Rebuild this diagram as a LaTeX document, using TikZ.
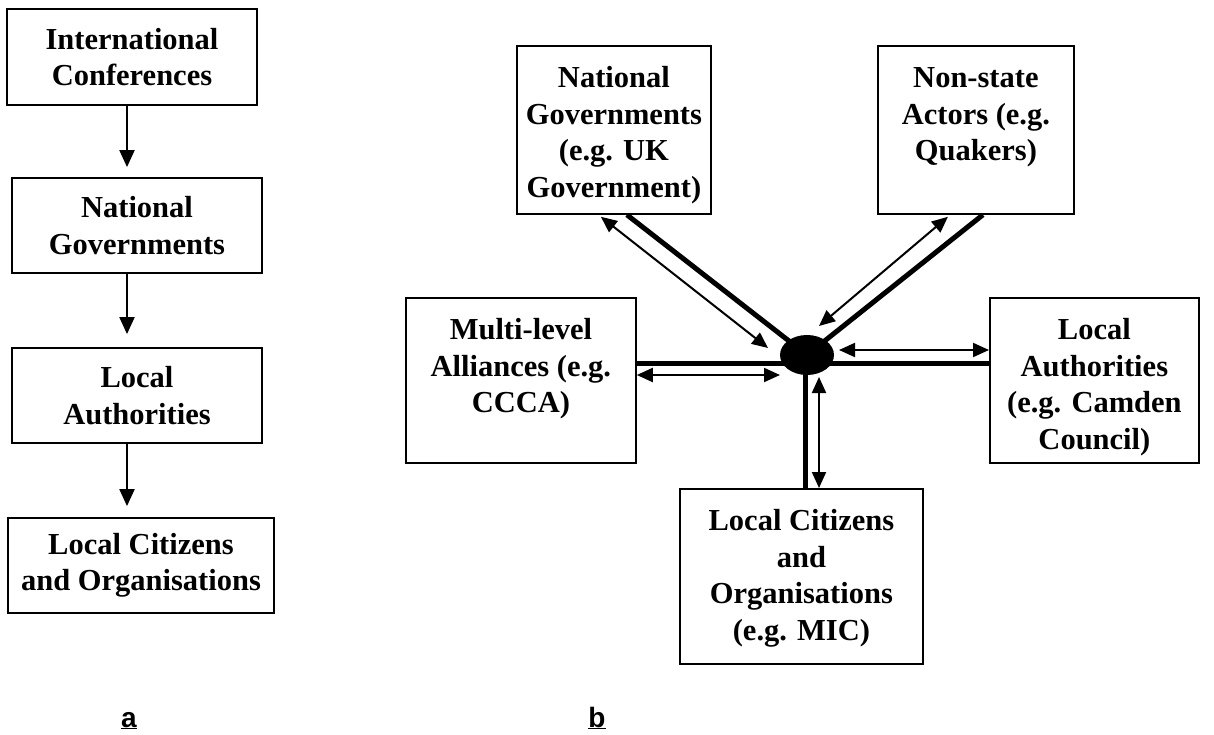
\documentclass[tikz,border=0pt]{standalone}
\usepackage{fontspec}
\setmainfont{Liberation Serif}
\newfontfamily\labfont{Liberation Sans}
\usetikzlibrary{arrows.meta,shapes.geometric}
\newcommand\tbox[3]{\parbox[c][#2][t]{#1}{\centering\rule{0pt}{42pt}#3\par}}
\begin{document}
\begin{tikzpicture}[x=1pt,y=-1pt,
  every node/.style={font=\fontsize{30.5}{36.5}\selectfont\bfseries},
  box/.style={draw, line width=1.8pt, inner sep=0pt, anchor=north west},
  lbox/.style={draw, line width=1.8pt, inner sep=0pt, align=center},
  larr/.style={line width=2pt, -{Triangle[length=17pt,width=15pt]}},
  darr/.style={line width=2pt, {Triangle[length=16pt,width=14pt]}-{Triangle[length=16pt,width=14pt]}},
  thk/.style={line width=5pt},
  lab/.style={font=\fontsize{28}{30}\selectfont\labfont\bfseries, anchor=base}
]
\useasboundingbox (0,0) rectangle (1214,735);

% ---- panel a ----
\node[lbox, minimum width=250pt, minimum height=96pt] (L1) at (132,57) {International\\Conferences};
\node[lbox, minimum width=250pt, minimum height=95pt] (L2) at (137,225.5) {National\\Governments};
\node[lbox, minimum width=250pt, minimum height=95pt] (L3) at (137,395.5) {Local\\Authorities};
\node[lbox, minimum width=266pt, minimum height=95pt] (L4) at (141,565.5) {Local Citizens\\and Organisations};
\coordinate (ax) at (127,0);
\draw[larr, shorten >=10pt] (L1.south -| ax) -- (L2.north -| ax);
\draw[larr, shorten >=13pt] (L2.south -| ax) -- (L3.north -| ax);
\draw[larr, shorten >=11pt] (L3.south -| ax) -- (L4.north -| ax);

% ---- panel b ----
\node[box] (NG) at (516,45) {\tbox{194pt}{168pt}{National\\Governments\\(e.g. UK\\Government)}};
\node[box] (NS) at (877,45) {\tbox{196pt}{168pt}{Non-state\\Actors (e.g.\\Quakers)}};
\node[box] (ML) at (405,297) {\tbox{230pt}{165pt}{Multi-level\\Alliances (e.g.\\CCCA)}};
\node[box] (LA) at (989,297) {\tbox{209pt}{165pt}{Local\\Authorities\\(e.g. Camden\\Council)}};
\node[box] (LC) at (679,488) {\tbox{243pt}{175pt}{Local Citizens\\and\\Organisations\\(e.g. MIC)}};

\coordinate (hubc) at (807,355);
% thick links
\coordinate (hh) at ([shift={(0,8)}]hubc);
\coordinate (hv) at ([shift={(-2,0)}]hubc);
\draw[thk] ([shift={(13,0)}]NG.south) -- (hubc);
\draw[thk] ([shift={(7,0)}]NS.south) -- (hubc);
\draw[thk] (hh -| ML.east) -- (hh -| LA.west);
\draw[thk] (hv) -- (hv |- LC.north);
\node[ellipse, fill, inner sep=0pt, minimum width=54pt, minimum height=40pt] (hub) at (hubc) {};

% thin double arrows
\coordinate (ngt) at ([shift={(-13,2)}]NG.south);
\coordinate (ngh) at ([shift={(-39,-7)}]hub.center);
\draw[darr] (ngt) -- (ngh);
\coordinate (nst) at ([shift={(-28,2)}]NS.south);
\coordinate (nsh) at ([shift={(12,-29)}]hub.center);
\draw[darr] (nst) -- (nsh);
\coordinate (hr) at ([shift={(32,-5)}]hub.center);
\draw[darr] (hr) -- (hr -| LA.west);
\coordinate (hl) at ([shift={(-27,20)}]hub.center);
\draw[darr] (hl -| ML.east) -- (hl);
\coordinate (hd) at ([shift={(12,22)}]hub.center);
\draw[darr] (hd) -- (hd |- LC.north);

% labels
\node[lab] (la) at (129,727) {\underline{a}};
\node[lab] (lb) at (597,727) {\underline{b}};
\end{tikzpicture}
\end{document}
